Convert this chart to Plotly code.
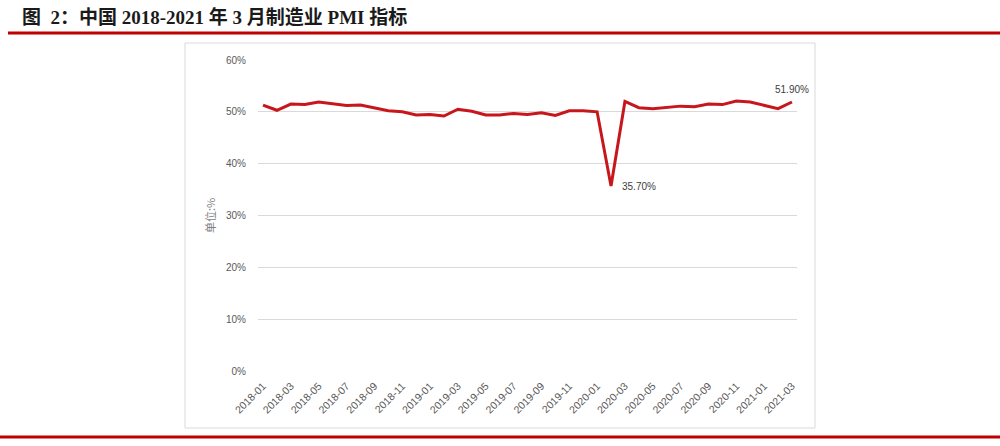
import plotly.graph_objects as go

months = [f"{y}-{m:02d}" for y in (2018, 2019, 2020) for m in range(1, 13)] + ["2021-01", "2021-02", "2021-03"]
pmi = [51.3, 50.3, 51.5, 51.4, 51.9, 51.5, 51.2, 51.3, 50.8, 50.2, 50.0, 49.4,
       49.5, 49.2, 50.5, 50.1, 49.4, 49.4, 49.7, 49.5, 49.8, 49.3, 50.2, 50.2,
       50.0, 35.7, 52.0, 50.8, 50.6, 50.9, 51.1, 51.0, 51.5, 51.4, 52.1, 51.9,
       51.3, 50.6, 51.9]
tick_labels = months[::2]
y_ticks = [0, 10, 20, 30, 40, 50, 60]
title_text = "图&nbsp;&nbsp;2：中国 2018-2021 年 3 月制造业 PMI 指标"
y_title = "单位:%"

W, H = 1000, 446
L, R, T, B = 258, 797, 60, 371
def px(x): return (x - L) / (R - L)
def py(y): return (B - y) / (B - T)

red = "#C00000"
fig = go.Figure()
fig.add_trace(go.Scatter(x=months, y=pmi, mode="lines",
                         line=dict(color="#C8161D", width=3), hoverinfo="skip"))

fig.update_layout(
    width=W, height=H, margin=dict(l=L, r=W - R, t=T, b=H - B),
    paper_bgcolor="white", plot_bgcolor="white", showlegend=False,
    font=dict(family="Noto Sans CJK SC, sans-serif", color="#595959", size=10),
)
fig.update_xaxes(type="category", range=[-0.36, len(months) - 1 + 0.36],
                 tickvals=tick_labels, ticktext=tick_labels, tickangle=-45,
                 showgrid=False, zeroline=False, showline=False, ticks="",
                 ticklabelstandoff=6,
                 tickfont=dict(size=10.5, color="#595959", family="Liberation Sans, sans-serif"))
fig.update_yaxes(range=[0, 60], tickvals=y_ticks, ticktext=[f"{v}%" for v in y_ticks],
                 showgrid=True, gridcolor="#D9D9D9", gridwidth=1, zeroline=False,
                 showline=False, ticks="", ticklabelstandoff=11,
                 tickfont=dict(size=10, color="#595959", family="Liberation Sans, sans-serif"),
                 title=dict(text=y_title, font=dict(size=11, color="#7f7f7f"), standoff=8))

# data labels
i_min = pmi.index(min(pmi))
fig.add_annotation(x=months[i_min], y=pmi[i_min], text=f"{pmi[i_min]:.2f}%", showarrow=False,
                   xanchor="left", yanchor="middle", xshift=9, yshift=-1,
                   font=dict(size=10, color="#404040", family="Liberation Sans, sans-serif"))
fig.add_annotation(x=months[-1], y=pmi[-1], text=f"{pmi[-1]:.2f}%", showarrow=False,
                   xanchor="center", yanchor="bottom", yshift=5,
                   font=dict(size=10, color="#404040", family="Liberation Sans, sans-serif"))

# title
fig.add_annotation(xref="paper", yref="paper", x=px(20), y=py(17), text=f"<b>{title_text}</b>",
                   showarrow=False, xanchor="left", yanchor="middle",
                   font=dict(size=19, color="#1a1a1a", family="Liberation Serif, Noto Sans CJK SC, serif"))
# red rules
fig.add_shape(type="line", xref="paper", yref="paper", x0=px(8), x1=px(1000), y0=py(33), y1=py(33),
              line=dict(color=red, width=3))
fig.add_shape(type="line", xref="paper", yref="paper", x0=px(0), x1=px(1000), y0=py(437), y1=py(437),
              line=dict(color=red, width=3))
# chart box
fig.add_shape(type="rect", xref="paper", yref="paper", x0=px(185), x1=px(815), y0=py(428), y1=py(43),
              line=dict(color="#D9D9D9", width=1), layer="below")

fig.write_html("out.html", config={"displayModeBar": False},
               post_script="document.body.style.margin='0';document.body.style.overflow='hidden';")
